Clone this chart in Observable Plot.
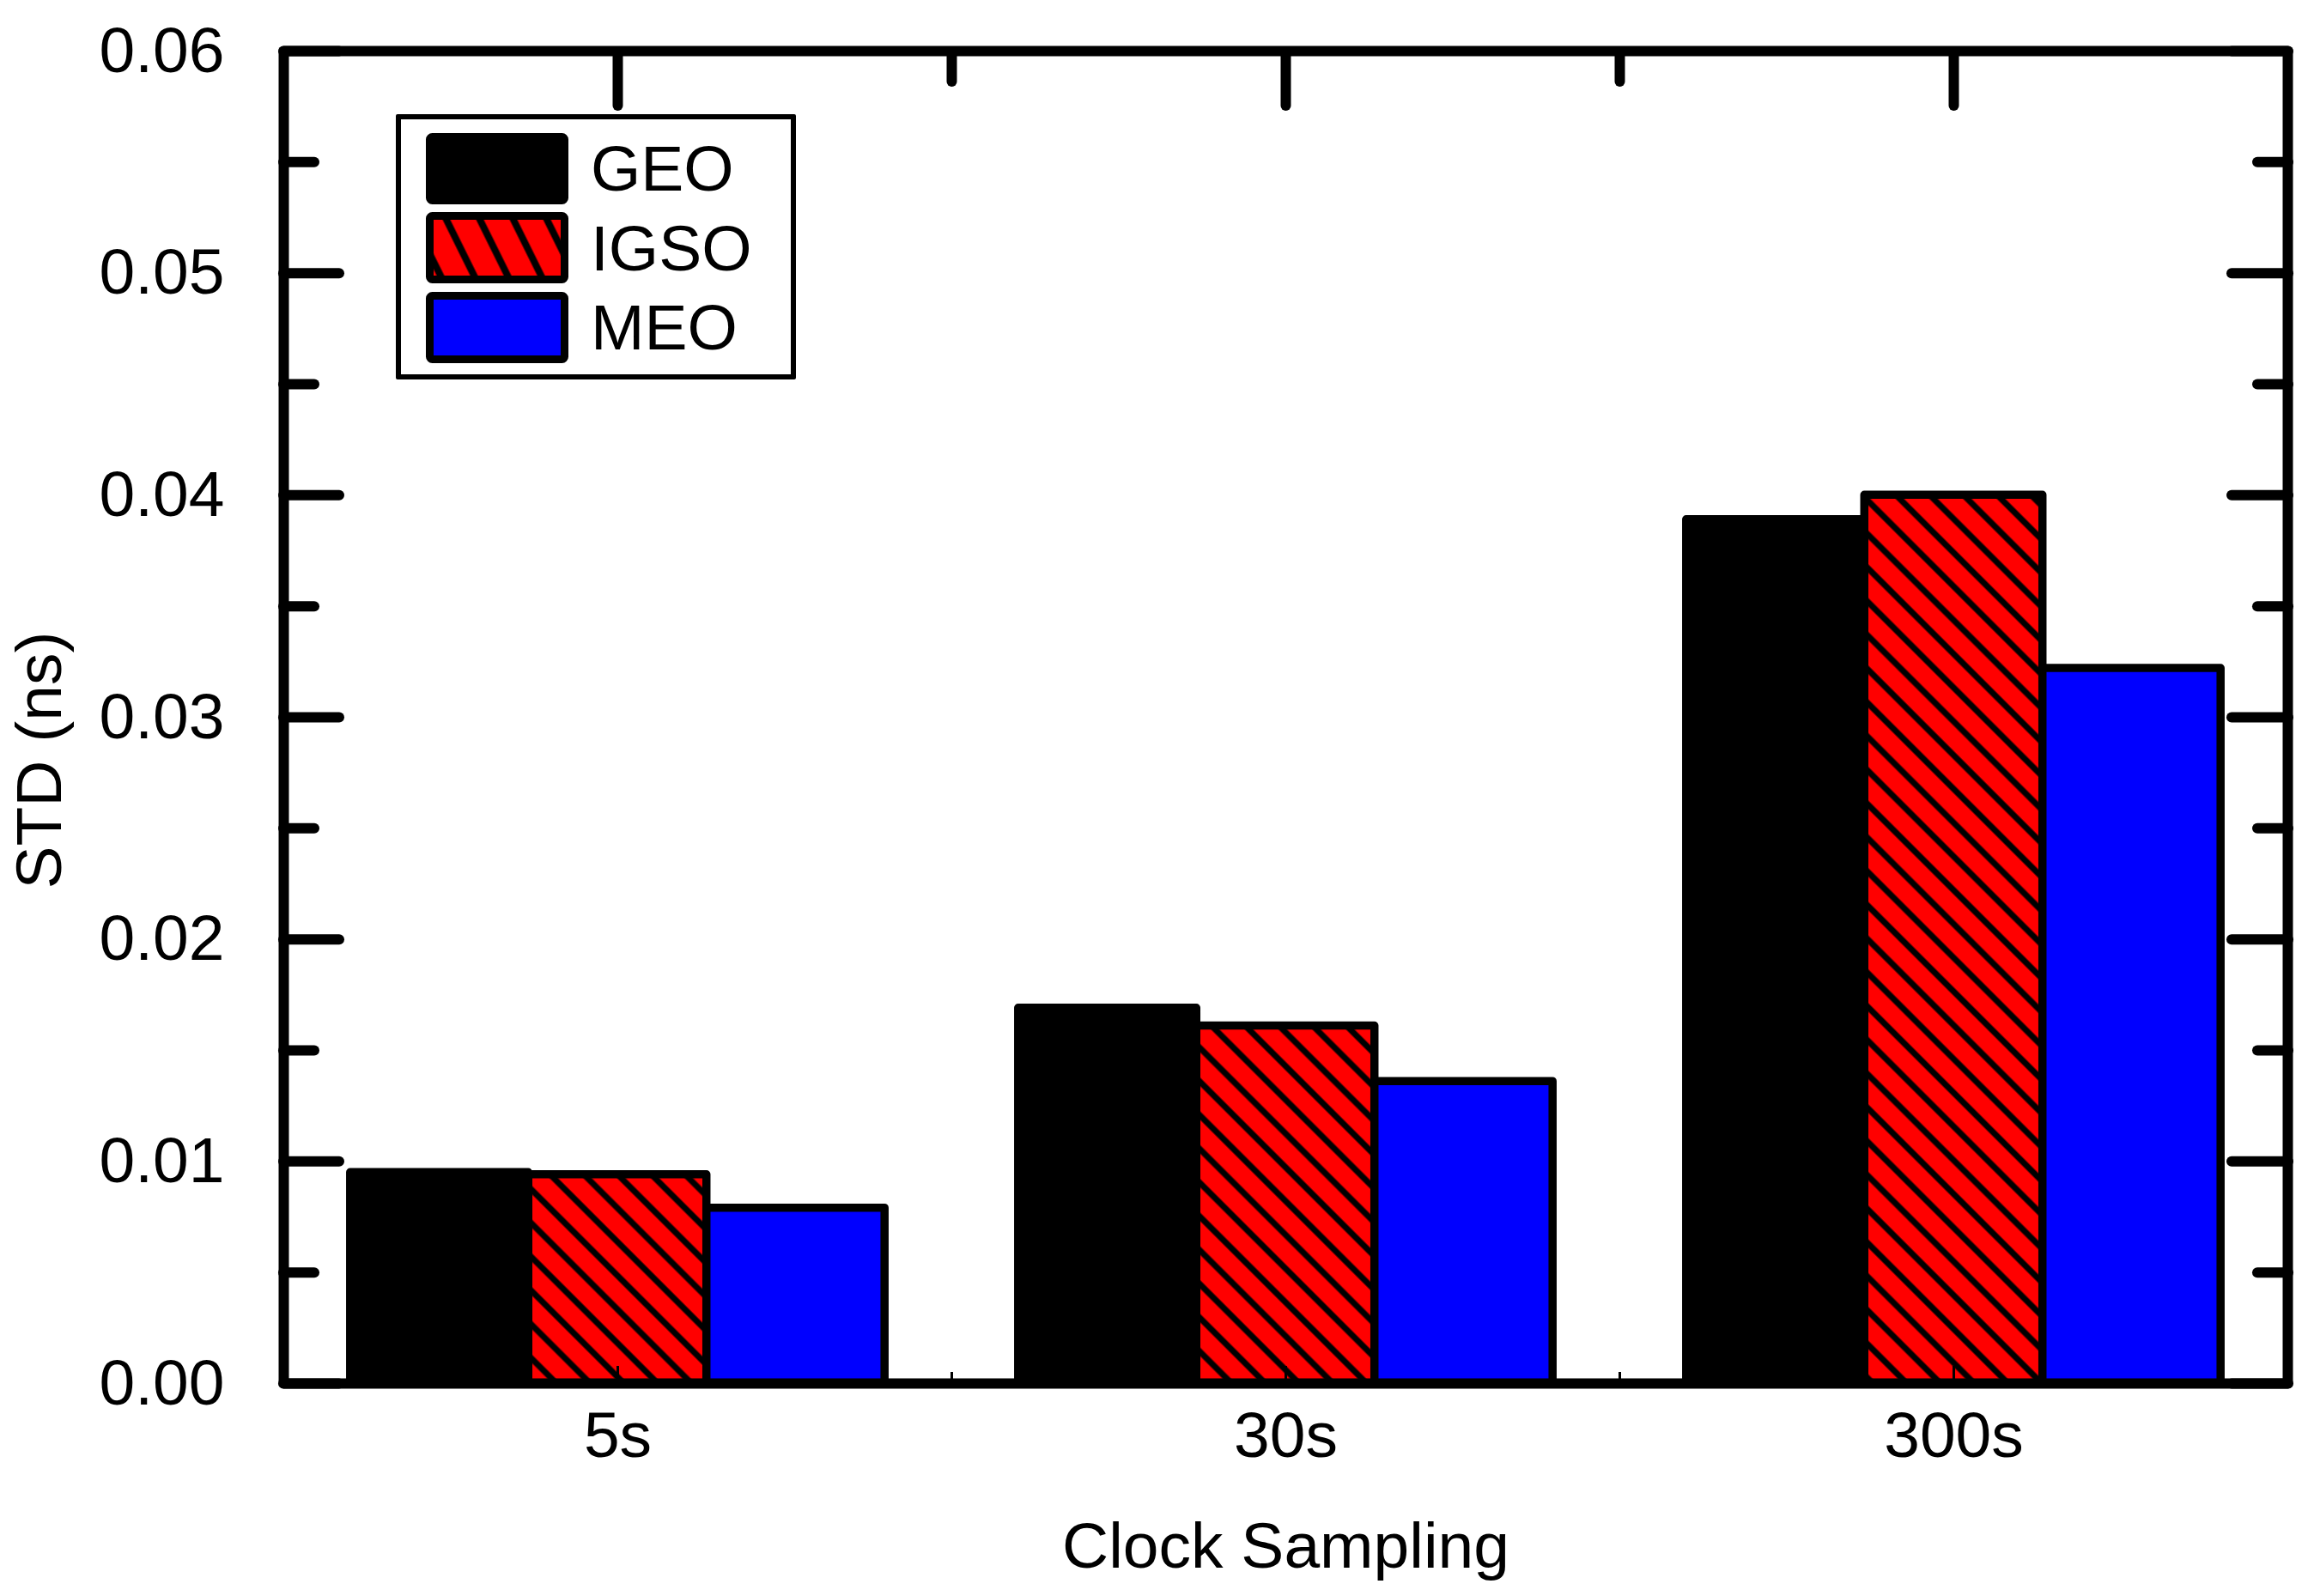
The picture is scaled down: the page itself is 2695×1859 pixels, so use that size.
<!DOCTYPE html>
<html>
<head>
<meta charset="utf-8">
<script src="https://cdn.jsdelivr.net/npm/d3@7"></script>
<script src="https://cdn.jsdelivr.net/npm/@observablehq/plot@0.6"></script>
<style>
  html, body { margin: 0; padding: 0; background: #fff; }
  #wrap { position: relative; width: 2695px; height: 1859px; font-family: 'Liberation Sans', Arial, sans-serif; }
  #wrap svg.plot { display: block; }
  .legend-box { position: absolute; left: 461px; top: 133px; width: 466px; height: 309px;
                border: 6px solid #000; box-sizing: border-box; background: #fff; border-radius: 2px; }
  .sw { position: absolute; left: 496px; width: 166px; height: 83px; }
  .sw svg { display: block; }
  .lab { position: absolute; left: 688px; font-size: 75px; line-height: 75px; color: #000; white-space: nowrap; }
</style>
</head>
<body>
<div id="wrap"></div>
<script>
// ---- data ----
const categories = ["5s", "30s", "300s"];
const series = ["GEO", "IGSO", "MEO"];
const geo  = [0.0095, 0.0169, 0.0389];
const igso = [0.0094, 0.0161, 0.0400];
const meo  = [0.0079, 0.0136, 0.0322];
const yTickValues  = [0, 0.01, 0.02, 0.03, 0.04, 0.05, 0.06];
const yMinorValues = [0.005, 0.015, 0.025, 0.035, 0.045, 0.055];
const xLabel = "Clock Sampling";
const yLabel = "STD (ns)";

// ---- table for the library ----
const seriesValues = {GEO: geo, IGSO: igso, MEO: meo};
const groupWidth = 0.8;
const barW = groupWidth / series.length;
const table = categories.flatMap((c, i) => series.map((s, j) => ({
  category: c,
  series: s,
  value: seriesValues[s][i],
  x1: i + 1 - groupWidth / 2 + j * barW,
  x2: i + 1 - groupWidth / 2 + (j + 1) * barW
})));
const catPos = categories.map((c, i) => i + 1);
const catMid = categories.slice(1).map((c, i) => i + 1.5);

const fills = ["#000000", "url(#bar-hatch)", "#0000ff"];

const chart = Plot.plot({
  width: 2695,
  height: 1859,
  marginLeft: 330,
  marginRight: 31,
  marginTop: 59,
  marginBottom: 248,
  x: {type: "linear", domain: [0.5, categories.length + 0.5]},
  y: {domain: [0, 0.06], label: null},
  color: {domain: series, range: fills},
  style: {fontFamily: "'Liberation Sans', Arial, sans-serif", fontSize: "75px", background: "#fff", color: "#000", overflow: "visible"},
  marks: [
    Plot.rect(table, {x1: "x1", x2: "x2", y1: 0, y2: "value", fill: "series",
      stroke: "#000", strokeWidth: 9.5, strokeLinejoin: "round"}),
    // left axis: major ticks + labels, minor ticks
    Plot.axisY({anchor: "left", ticks: yTickValues, tickSize: -65, tickPadding: 134,
      tickFormat: d3.format(".2f"), strokeWidth: 12, strokeLinecap: "round", label: null}),
    Plot.axisY({anchor: "left", ticks: yMinorValues, tickSize: -36, fill: "none",
      strokeWidth: 12, strokeLinecap: "round", label: null}),
    // right axis
    Plot.axisY({anchor: "right", ticks: yTickValues, tickSize: -66, fill: "none",
      strokeWidth: 12, strokeLinecap: "round", label: null}),
    Plot.axisY({anchor: "right", ticks: yMinorValues, tickSize: -36, fill: "none",
      strokeWidth: 12, strokeLinecap: "round", label: null}),
    // top axis
    Plot.axisX({anchor: "top", ticks: catPos, tickSize: -63, fill: "none",
      strokeWidth: 12, strokeLinecap: "round", label: null}),
    Plot.axisX({anchor: "top", ticks: catMid, tickSize: -35, fill: "none",
      strokeWidth: 12, strokeLinecap: "round", label: null}),
    // bottom axis: thin ticks + category labels
    Plot.axisX({anchor: "bottom", ticks: catPos, tickSize: -20, tickPadding: 52,
      tickFormat: d => categories[Math.round(d) - 1], strokeWidth: 3, label: null}),
    Plot.axisX({anchor: "bottom", ticks: catMid, tickSize: -13, fill: "none",
      strokeWidth: 3, label: null}),
    Plot.frame({stroke: "#000", strokeWidth: 12, strokeLinejoin: "round"}),
    Plot.text([yLabel], {frameAnchor: "left", text: d => d, rotate: -90, dx: -284, dy: 50,
      textAnchor: "middle", lineAnchor: "middle", fontSize: 75}),
    Plot.text([xLabel], {frameAnchor: "bottom", text: d => d, dy: 190,
      textAnchor: "middle", lineAnchor: "middle", fontSize: 75})
  ]
});

// hatch pattern definition for the IGSO bars
d3.select(chart).insert("defs", ":first-child").html(
  `<pattern id="bar-hatch" patternUnits="userSpaceOnUse" width="20" height="27.8" patternTransform="rotate(45)">
     <rect width="20" height="27.8" fill="#ff0000"></rect>
     <line x1="0" y1="13.9" x2="20" y2="13.9" stroke="#000" stroke-width="7"></line>
   </pattern>`
);

const wrap = document.getElementById("wrap");
wrap.appendChild(chart);

// ---- legend (inside the frame, upper left) ----
const legendTops = [155, 247, 340];
const labelTops = [158.5, 251.5, 343.5];
const box = document.createElement("div");
box.className = "legend-box";
wrap.appendChild(box);
series.forEach((s, j) => {
  const sw = document.createElement("div");
  sw.className = "sw";
  sw.style.top = legendTops[j] + "px";
  const fill = j === 1 ? "url(#legend-hatch)" : fills[j];
  sw.innerHTML = `<svg width="166" height="83" xmlns="http://www.w3.org/2000/svg">
    ${j === 1 ? `<defs><pattern id="legend-hatch" patternUnits="userSpaceOnUse" width="20" height="35" patternTransform="rotate(63.7)">
      <rect width="20" height="35" fill="#ff0000"></rect>
      <line x1="0" y1="17.5" x2="20" y2="17.5" stroke="#000" stroke-width="8"></line></pattern></defs>` : ""}
    <rect x="4.5" y="4.5" width="157" height="74" rx="3" fill="${fill}" stroke="#000" stroke-width="9"></rect>
  </svg>`;
  wrap.appendChild(sw);
  const lab = document.createElement("div");
  lab.className = "lab";
  lab.style.top = labelTops[j] + "px";
  lab.textContent = s;
  wrap.appendChild(lab);
});
</script>
</body>
</html>
